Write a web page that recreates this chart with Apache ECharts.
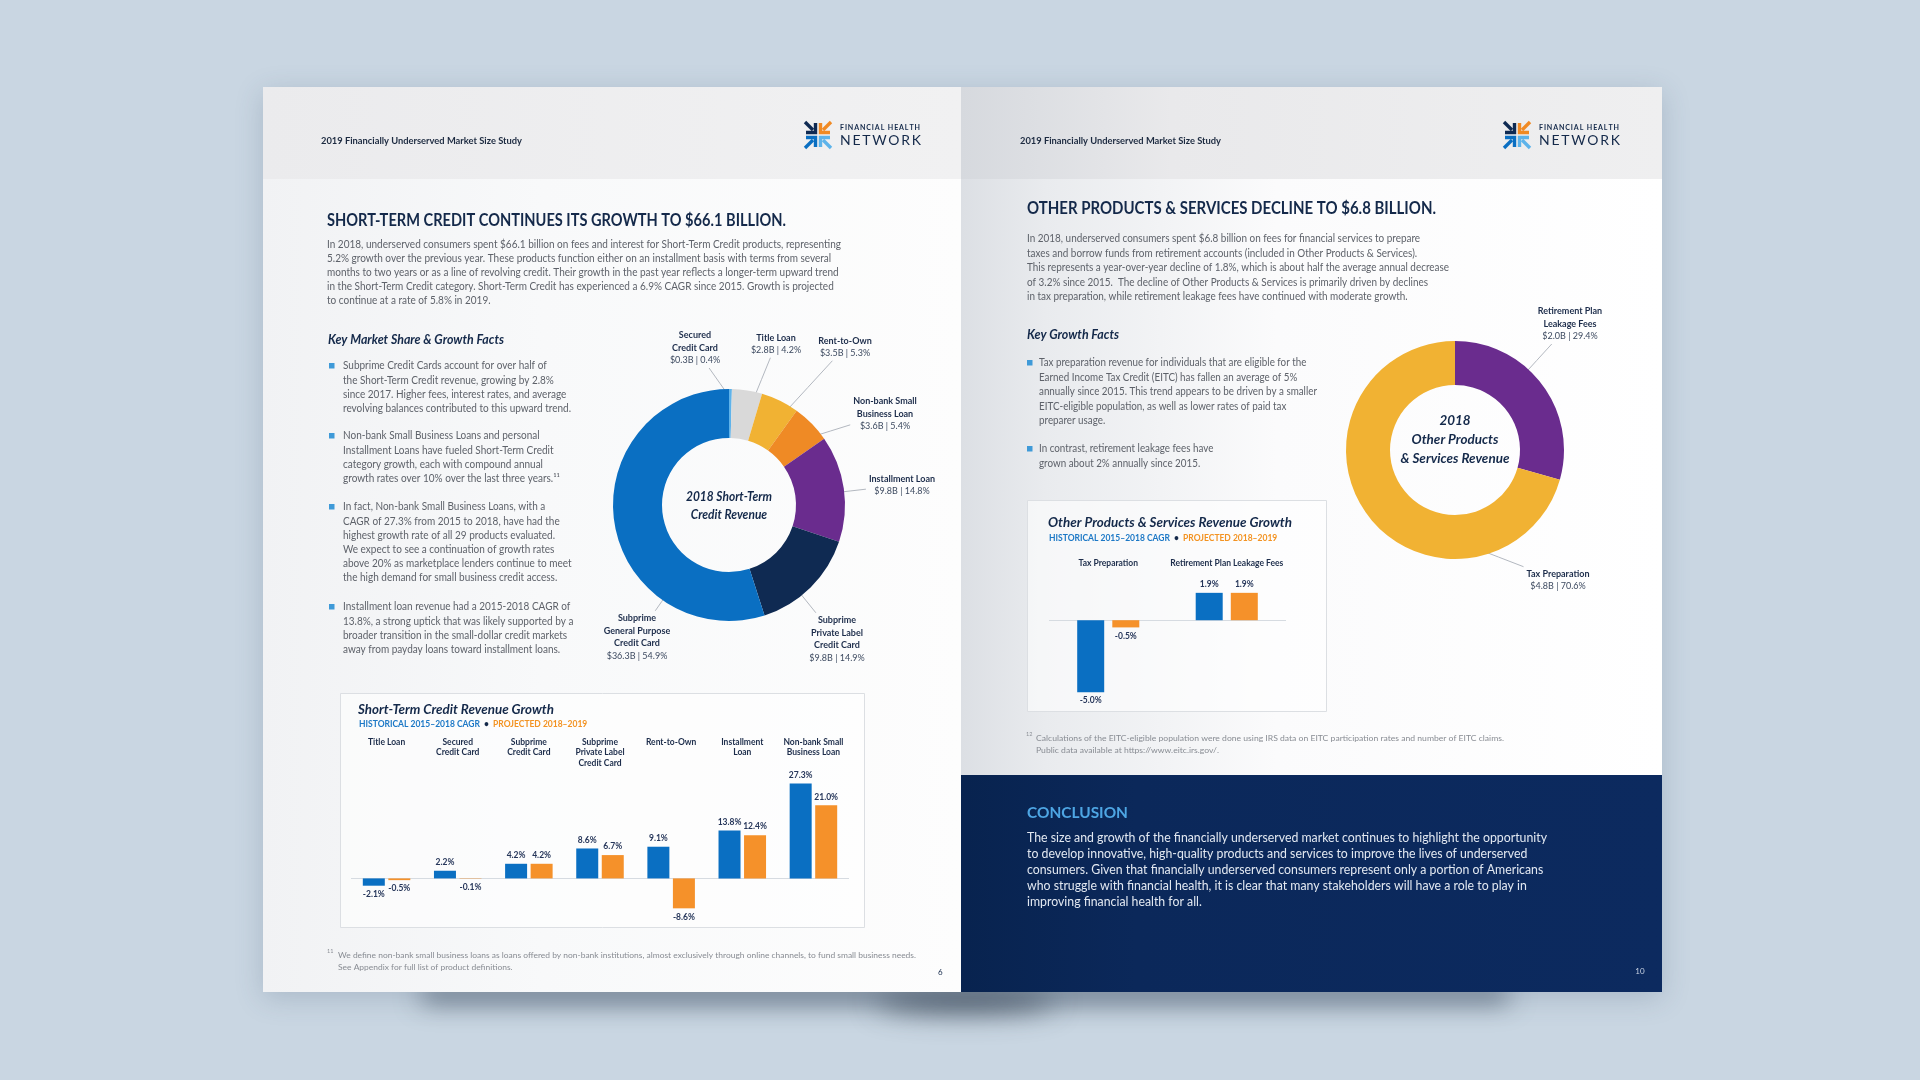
<!DOCTYPE html>
<html><head><meta charset="utf-8">
<script src="https://cdn.jsdelivr.net/npm/echarts@6/dist/echarts.min.js"></script>
<style>html,body{margin:0;padding:0;background:#c9d6e2;}#c{width:1920px;height:1080px;}</style>
</head><body><div id="c"></div>
<script>
// ---------------- DATA ----------------
const stcCategories = ['Secured\nCredit Card', 'Title Loan', 'Rent-to-Own', 'Non-bank Small\nBusiness Loan', 'Installment Loan', 'Subprime\nPrivate Label\nCredit Card', 'Subprime\nGeneral Purpose\nCredit Card'];
const stcRevenueB = [0.3, 2.8, 3.5, 3.6, 9.8, 9.8, 36.3];
const stcSharePct = [0.4, 4.2, 5.3, 5.4, 14.8, 14.9, 54.9];

const opsCategories = ['Retirement Plan\nLeakage Fees', 'Tax Preparation'];
const opsRevenueB = [2.0, 4.8];
const opsSharePct = [29.4, 70.6];

const growthCategories = ['Title Loan', 'Secured\nCredit Card', 'Subprime\nCredit Card', 'Subprime\nPrivate Label\nCredit Card', 'Rent-to-Own', 'Installment\nLoan', 'Non-bank Small\nBusiness Loan'];
const growthHistorical = [-2.1, 2.2, 4.2, 8.6, 9.1, 13.8, 27.3];
const growthProjected = [-0.5, -0.1, 4.2, 6.7, -8.6, 12.4, 21.0];

const opsGrowthCategories = ['Tax Preparation', 'Retirement Plan Leakage Fees'];
const opsGrowthHistorical = [-5.0, 1.9];
const opsGrowthProjected = [-0.5, 1.9];

// ---------------- STYLE / LAYOUT ----------------
const NAVY = '#14294a', BODY = '#5e626a', BLUE = '#0a6fc2', ORANGE = '#f5912a';
const STC_COLORS = ['#5fb3ea', '#d9d9d9', '#f1b233', '#ef8a25', '#6a2c8e', '#0f2a52', '#0a6fc2'];
const OPS_COLORS = ['#6a2c8e', '#f1b233'];
const STC_LABEL_OFFSETS = [[-34, -157], [47, -161], [116, -158], [156, -91], [173, -20], [108, 134], [-92, 132]];
const OPS_LABEL_OFFSETS = [[115, -126], [103, 130]];
const FONT = 'Lato';

const mctx = document.createElement('canvas').getContext('2d');
function fitScale(sample, size, weight, fstyle, target) {
  mctx.font = `${fstyle} ${weight} ${size}px ${FONT}`;
  return target / mctx.measureText(sample).width;
}
function T(x, y, text, o) {
  o = o || {};
  const size = o.size || 10, weight = o.weight || 'normal', fstyle = o.italic ? 'italic' : 'normal';
  const lh = o.lh || Math.round(size * 1.35);
  const sx = o.fit ? fitScale(o.fit[0], size, weight, fstyle, o.fit[1]) : (o.sx || 1);
  const multi = text.indexOf('\n') >= 0 && !o.va;
  return {
    type: 'text', x: x, y: multi ? y - lh / 2 : y, scaleX: sx, z: 20, silent: true,
    style: {
      text: text, fill: o.color || BODY, fontSize: size, fontWeight: weight, fontStyle: fstyle, fontFamily: FONT,
      lineHeight: lh, align: o.align || 'left', verticalAlign: multi ? 'top' : (o.va || 'middle'), rich: o.rich
    }
  };
}
function rect(x, y, w, h, fill, extra) {
  return Object.assign({ type: 'rect', shape: { x: x, y: y, width: w, height: h }, style: { fill: fill }, z: 1, silent: true }, extra || {});
}
function hgrad(stops) {
  return new echarts.graphic.LinearGradient(0, 0, 1, 0, stops.map(s => ({ offset: s[0], color: s[1] })));
}
function spaced(s) { return s.split('').join('\u2009'); }
function logo(cx, cy, tx) {
  const els = [];
  const quads = [[-1, -1, '#0f2a52'], [1, -1, '#f08a24'], [-1, 1, '#0a6fc2'], [1, 1, '#5db3ea']];
  quads.forEach(q => {
    const sx = q[0], sy = q[1], c = q[2];
    els.push({ type: 'polyline', z: 20, silent: true, shape: { points: [[cx + sx * 2.5, cy + sy * 12], [cx + sx * 2.5, cy + sy * 2.5], [cx + sx * 12, cy + sy * 2.5]] }, style: { stroke: c, lineWidth: 3.4, fill: null } });
    els.push({ type: 'line', z: 20, silent: true, shape: { x1: cx + sx * 5, y1: cy + sy * 5, x2: cx + sx * 13, y2: cy + sy * 13 }, style: { stroke: c, lineWidth: 3.4 } });
  });
  els.push(T(tx, cy - 7, spaced('FINANCIAL HEALTH'), { size: 6.5, weight: 'bold', color: NAVY, fit: [spaced('FINANCIAL HEALTH'), 80] }));
  els.push(T(tx, cy + 6, spaced('NETWORK'), { size: 13.5, color: NAVY, fit: [spaced('NETWORK'), 81] }));
  return els;
}
function bullets(x, squareX, firstYs, blocks, lh, fit) {
  const els = [];
  blocks.forEach((b, i) => {
    els.push(rect(squareX, firstYs[i] - 3, 5.5, 5.5, '#3f9ad8', { z: 20 }));
    els.push(T(x, firstYs[i], b, { size: 10.5, lh: lh, fit: fit }));
  });
  return els;
}
const subRich = {
  b: { fontFamily: FONT, fontSize: 8.5, fontWeight: 'bold', fill: '#1c78c6' },
  d: { fontFamily: FONT, fontSize: 8.5, fontWeight: 'bold', fill: NAVY },
  o: { fontFamily: FONT, fontSize: 8.5, fontWeight: 'bold', fill: '#f39322' }
};
const subText = '{b|HISTORICAL 2015\u20132018 CAGR}{d|  \u2022  }{o|PROJECTED 2018\u20132019}';

// ---------------- GRAPHIC (page, text) ----------------
const G = [];
// book shadows (shapes hidden behind the pages, only their blur shows below)
G.push({ type: 'rect', z: 0, silent: true, shape: { x: 420, y: 972, width: 1090, height: 16, r: 8 }, style: { fill: 'rgba(80,95,112,1)', shadowBlur: 26, shadowOffsetY: 14, shadowColor: 'rgba(80,95,112,0.9)' } });
G.push({ type: 'ellipse', z: 0, silent: true, shape: { cx: 965, cy: 980, rx: 90, ry: 10 }, style: { fill: 'rgba(50,62,78,0.9)', shadowBlur: 28, shadowOffsetY: 22, shadowColor: 'rgba(50,62,78,0.85)' } });
G.push(rect(263, 87, 1399, 905, '#ffffff', { z: 0, style: { fill: '#ffffff', shadowBlur: 26, shadowOffsetY: 6, shadowColor: 'rgba(60,80,110,0.22)' } }));
// pages
G.push(rect(263, 87, 698, 905, hgrad([[0, '#f1f2f4'], [0.4, '#f8f9fa'], [1, '#fdfdfd']])));
G.push(rect(961, 87, 701, 905, hgrad([[0, '#dcdfe4'], [0.12, '#e9ebee'], [0.45, '#fbfbfc'], [1, '#ffffff']])));
G.push(rect(263, 87, 698, 92, hgrad([[0, '#ebebed'], [1, '#f1f1f2']]), { z: 2 }));
G.push(rect(961, 87, 701, 92, hgrad([[0, '#d6d9de'], [0.3, '#e9e9eb'], [1, '#efeff0']]), { z: 2 }));
G.push(rect(961, 775, 701, 217, hgrad([[0, '#08234f'], [0.25, '#0b285a'], [1, '#0c2a5f']]), { z: 2 }));
// headers
G.push(T(321, 141, '2019 Financially Underserved Market Size Study', { size: 9.5, weight: 'bold', color: '#1c2a40', fit: ['2019 Financially Underserved Market Size Study', 201] }));
G.push(T(1020, 141, '2019 Financially Underserved Market Size Study', { size: 9.5, weight: 'bold', color: '#1c2a40', fit: ['2019 Financially Underserved Market Size Study', 201] }));
logo(818, 135, 840).forEach(e => G.push(e));
logo(1517, 135, 1539).forEach(e => G.push(e));

// left page text
const LT = 'SHORT-TERM CREDIT CONTINUES ITS GROWTH TO $66.1 BILLION.';
G.push(T(327, 221, LT, { size: 16.5, weight: 'bold', color: NAVY, fit: [LT, 459] }));
const LP1 = 'In 2018, underserved consumers spent $66.1 billion on fees and interest for Short-Term Credit products, representing';
G.push(T(327, 245, [LP1,
  '5.2% growth over the previous year. These products function either on an installment basis with terms from several',
  'months to two years or as a line of revolving credit. Their growth in the past year reflects a longer-term upward trend',
  'in the Short-Term Credit category. Short-Term Credit has experienced a 6.9% CAGR since 2015. Growth is projected',
  'to continue at a rate of 5.8% in 2019.'].join('\n'), { size: 10.5, lh: 14, fit: [LP1, 514] }));
G.push(T(328, 340, 'Key Market Share & Growth Facts', { size: 12.5, weight: 'bold', italic: true, color: NAVY, fit: ['Key Market Share & Growth Facts', 176] }));
const LBfit = ['revolving balances contributed to this upward trend.', 228];
bullets(343, 329, [366, 436, 507, 607], [
  'Subprime Credit Cards account for over half of\nthe Short-Term Credit revenue, growing by 2.8%\nsince 2017. Higher fees, interest rates, and average\nrevolving balances contributed to this upward trend.',
  'Non-bank Small Business Loans and personal\nInstallment Loans have fueled Short-Term Credit\ncategory growth, each with compound annual\ngrowth rates over 10% over the last three years.\u00b9\u00b9',
  'In fact, Non-bank Small Business Loans, with a\nCAGR of 27.3% from 2015 to 2018, have had the\nhighest growth rate of all 29 products evaluated.\nWe expect to see a continuation of growth rates\nabove 20% as marketplace lenders continue to meet\nthe high demand for small business credit access.',
  'Installment loan revenue had a 2015-2018 CAGR of\n13.8%, a strong uptick that was likely supported by a\nbroader transition in the small-dollar credit markets\naway from payday loans toward installment loans.'
], 14.2, LBfit).forEach(e => G.push(e));
G.push(T(729, 506, '2018 Short-Term\nCredit Revenue', { size: 12.5, weight: 'bold', italic: true, color: NAVY, lh: 18, align: 'center', va: 'middle', fit: ['2018 Short-Term', 86] }));
// left bar box
G.push(rect(340.5, 693.5, 524, 234, 'rgba(255,255,255,0.6)', { z: 3, style: { fill: 'rgba(255,255,255,0.6)', stroke: '#dcdfe3', lineWidth: 1 } }));
G.push(T(358, 710, 'Short-Term Credit Revenue Growth', { size: 12.5, weight: 'bold', italic: true, color: NAVY, fit: ['Short-Term Credit Revenue Growth', 196] }));
G.push(T(359, 724, subText, { size: 8.5, rich: subRich, sx: 1 }));
// left footnote
G.push(T(327, 951, '11', { size: 5.5, color: '#8c9097' }));
const LF1 = 'We define non-bank small business loans as loans offered by non-bank institutions, almost exclusively through online channels, to fund small business needs.';
G.push(T(338, 955, LF1 + '\nSee Appendix for full list of product definitions.', { size: 8.3, lh: 12, color: '#888c93', fit: [LF1, 578] }));
G.push(T(938, 972, '6', { size: 8, color: NAVY }));

// right page text
const RT = 'OTHER PRODUCTS & SERVICES DECLINE TO $6.8 BILLION.';
G.push(T(1027, 209, RT, { size: 16.5, weight: 'bold', color: NAVY, fit: [RT, 409] }));
const RP3 = 'This represents a year-over-year decline of 1.8%, which is about half the average annual decrease';
G.push(T(1027, 239, ['In 2018, underserved consumers spent $6.8 billion on fees for financial services to prepare',
  'taxes and borrow funds from retirement accounts (included in Other Products & Services).',
  RP3,
  'of 3.2% since 2015.  The decline of Other Products & Services is primarily driven by declines',
  'in tax preparation, while retirement leakage fees have continued with moderate growth.'].join('\n'), { size: 10.5, lh: 14.5, fit: [RP3, 422] }));
G.push(T(1027, 335, 'Key Growth Facts', { size: 12.5, weight: 'bold', italic: true, color: NAVY, fit: ['Key Growth Facts', 92] }));
bullets(1039, 1027, [363, 449], [
  'Tax preparation revenue for individuals that are eligible for the\nEarned Income Tax Credit (EITC) has fallen an average of 5%\nannually since 2015. This trend appears to be driven by a smaller\nEITC-eligible population, as well as lower rates of paid tax\npreparer usage.',
  'In contrast, retirement leakage fees have\ngrown about 2% annually since 2015.'
], 14.4, ['annually since 2015. This trend appears to be driven by a smaller', 278]).forEach(e => G.push(e));
G.push(T(1455, 440, '2018\nOther Products\n& Services Revenue', { size: 13, italic: true, weight: 'bold', color: NAVY, lh: 19, align: 'center', va: 'middle', fit: ['& Services Revenue', 109] }));
// right bar box
G.push(rect(1027.5, 500.5, 299, 211, 'rgba(255,255,255,0.6)', { z: 3, style: { fill: 'rgba(255,255,255,0.6)', stroke: '#dcdfe3', lineWidth: 1 } }));
G.push(T(1048, 523, 'Other Products & Services Revenue Growth', { size: 12.5, weight: 'bold', italic: true, color: NAVY, fit: ['Other Products & Services Revenue Growth', 244] }));
G.push(T(1049, 538, subText, { size: 8.5, rich: subRich, sx: 1 }));
// right footnote
G.push(T(1026, 734, '12', { size: 5.5, color: '#8c9097' }));
const RF1 = 'Calculations of the EITC-eligible population were done using IRS data on EITC participation rates and number of EITC claims.';
G.push(T(1036, 738, RF1 + '\nPublic data available at https://www.eitc.irs.gov/.', { size: 8.3, lh: 12, color: '#888c93', fit: [RF1, 468] }));
// conclusion
G.push(T(1027, 813, 'CONCLUSION', { size: 15.5, weight: 'bold', color: '#4ea6e4', fit: ['CONCLUSION', 101] }));
const C1 = 'The size and growth of the financially underserved market continues to highlight the opportunity';
G.push(T(1027, 838, [C1,
  'to develop innovative, high-quality products and services to improve the lives of underserved',
  'consumers. Given that financially underserved consumers represent only a portion of Americans',
  'who struggle with financial health, it is clear that many stakeholders will have a role to play in',
  'improving financial health for all.'].join('\n'), { size: 12.5, lh: 16, color: '#e2e8f1', fit: [C1, 520] }));
G.push(T(1640, 971, '10', { size: 8, color: '#c9d3e3', align: 'center' }));

// ---------------- PIE LABEL LAYOUT ----------------
function pieLayout(cx, cy, rOut, shares, offsets) {
  const total = shares.reduce((a, b) => a + b, 0);
  const starts = []; let acc = 0;
  shares.forEach(v => { starts.push(acc / total * 360); acc += v; });
  return function (p) {
    const i = p.dataIndex;
    const lx = cx + offsets[i][0], ly = cy + offsets[i][1];
    const a0 = starts[i], a1 = a0 + shares[i] / total * 360, span = a1 - a0;
    let ang = Math.atan2(lx - cx, -(ly - cy)) * 180 / Math.PI;
    if (ang < 0) ang += 360;
    ang = Math.min(Math.max(ang, a0 + span * 0.25), a1 - span * 0.25);
    const r = rOut - 10, rad = ang * Math.PI / 180;
    const sx = cx + r * Math.sin(rad), sy = cy - r * Math.cos(rad);
    const hw = p.labelRect.width / 2 + 3, hh = p.labelRect.height / 2 + 3;
    const vx = sx - lx, vy = sy - ly;
    const t = Math.min(hw / Math.max(Math.abs(vx), 1e-6), hh / Math.max(Math.abs(vy), 1e-6));
    const ex = lx + vx * t, ey = ly + vy * t;
    return { x: lx, y: ly, align: 'center', verticalAlign: 'middle', labelLinePoints: [[sx, sy], [(sx + ex) / 2, (sy + ey) / 2], [ex, ey]] };
  };
}
const pieRich = {
  n: { fontFamily: FONT, fontSize: 9, fontWeight: 'bold', color: '#1d2d4b', lineHeight: 12.5 },
  v: { fontFamily: FONT, fontSize: 9, color: '#3d4a60', lineHeight: 12.5 }
};
function pieFormatter(rev, pct) {
  return function (p) {
    const i = p.dataIndex;
    return p.name.split('\n').map(s => '{n|' + s + '}').join('\n') + '\n{v|$' + rev[i].toFixed(1) + 'B | ' + pct[i].toFixed(1) + '%}';
  };
}
function pieSeries(center, radius, cats, shares, rev, colors, offsets) {
  return {
    type: 'pie', center: center, radius: radius, startAngle: 90, clockwise: true, avoidLabelOverlap: false,
    silent: true, z: 5,
    data: cats.map((n, i) => ({ name: n, value: shares[i], itemStyle: { color: colors[i] } })),
    label: { show: true, position: 'outside', formatter: pieFormatter(rev, shares), rich: pieRich, fontFamily: FONT },
    labelLine: { show: true, length: 10, length2: 0, lineStyle: { color: '#b3b8c0', width: 1 } },
    labelLayout: pieLayout(center[0], center[1], radius[1], shares, offsets)
  };
}

// ---------------- BARS ----------------
const barLabel = { show: true, fontFamily: FONT, fontSize: 8.5, fontWeight: 'bold', color: '#26365a', distance: 4, formatter: p => p.value.toFixed(1) + '%' };
function barData(arr) { return arr.map(v => ({ value: v, label: { position: v < 0 ? 'bottom' : 'top' } })); }
function barSeries(name, idx, vals, color, width, gap, withZero) {
  const s = { name: name, type: 'bar', xAxisIndex: idx, yAxisIndex: idx, data: barData(vals), barWidth: width, barGap: gap,
    itemStyle: { color: color }, label: barLabel, silent: true, z: 5 };
  if (withZero) s.markLine = { silent: true, symbol: 'none', label: { show: false }, lineStyle: { color: '#d6dbe1', width: 1, type: 'solid' }, data: [{ yAxis: 0 }], z: 4 };
  return s;
}
const catLabel = (margin) => ({ interval: 0, verticalAlign: 'top', margin: margin, fontFamily: FONT, fontSize: 8.5, fontWeight: 'bold', color: '#1d2d4b', lineHeight: 10.5 });

const option = {
  animation: false,
  backgroundColor: '#c9d6e2',
  graphic: { elements: G },
  grid: [
    { left: 351, top: 774, width: 498, height: 139.2 },
    { left: 1049, top: 577, width: 237, height: 129.6 }
  ],
  xAxis: [
    { gridIndex: 0, z: 30, type: 'category', data: growthCategories, position: 'top', axisLine: { show: false, onZero: false }, axisTick: { show: false }, axisLabel: catLabel(37) },
    { gridIndex: 1, z: 30, type: 'category', data: opsGrowthCategories, position: 'top', axisLine: { show: false, onZero: false }, axisTick: { show: false }, axisLabel: catLabel(19) }
  ],
  yAxis: [
    { gridIndex: 0, type: 'value', min: -10, max: 30, show: false },
    { gridIndex: 1, type: 'value', min: -6, max: 3, show: false }
  ],
  series: [
    pieSeries([729, 505], [67, 116], stcCategories, stcSharePct, stcRevenueB, STC_COLORS, STC_LABEL_OFFSETS),
    pieSeries([1455, 450], [65, 109], opsCategories, opsSharePct, opsRevenueB, OPS_COLORS, OPS_LABEL_OFFSETS),
    barSeries('Historical 2015–2018 CAGR', 0, growthHistorical, BLUE, 22, '16%', true),
    barSeries('Projected 2018–2019', 0, growthProjected, ORANGE, 22, '16%', false),
    barSeries('Historical 2015–2018 CAGR', 1, opsGrowthHistorical, BLUE, 27, '30%', true),
    barSeries('Projected 2018–2019', 1, opsGrowthProjected, ORANGE, 27, '30%', false)
  ]
};
const chart = echarts.init(document.getElementById('c'), null, { renderer: 'canvas', width: 1920, height: 1080 });
chart.setOption(option);
</script>
</body></html>
